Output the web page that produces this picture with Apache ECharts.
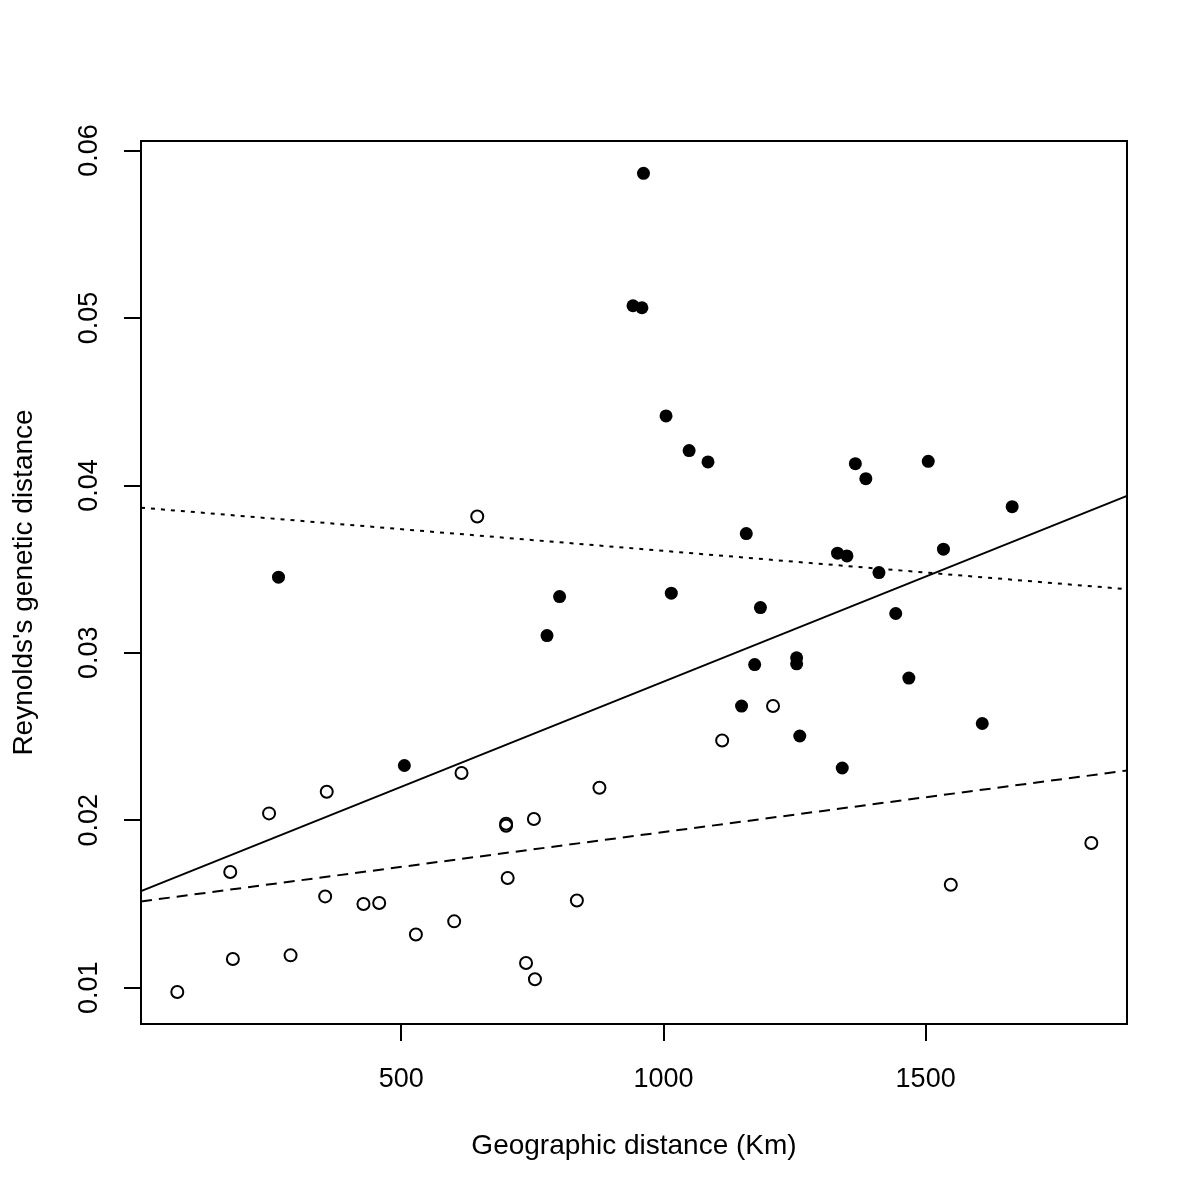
<!DOCTYPE html>
<html>
<head>
<meta charset="utf-8">
<script src="https://cdn.jsdelivr.net/npm/echarts@6/dist/echarts.min.js"></script>
<style>
html,body{margin:0;padding:0;background:#fff;}
#chart{width:1200px;height:1200px;}
</style>
</head>
<body>
<div id="chart"></div>
<script>
// Filled points: [geographic distance (km), Reynolds's genetic distance]
const filledX = [962, 942, 959, 1005, 1049, 1085, 1366, 1386, 1505, 1158, 1665, 1332, 1350, 1534, 1411, 266, 1015, 802, 1185, 1443, 778, 1174, 1254, 1254, 1468, 1149, 1260, 1341, 1608, 506];
const filledY = [0.05864, 0.05073, 0.05061, 0.04415, 0.04208, 0.04140, 0.04130, 0.04040, 0.04144, 0.03712, 0.03873, 0.03595, 0.03579, 0.03619, 0.03479, 0.03452, 0.03356, 0.03336, 0.03270, 0.03235, 0.03103, 0.02930, 0.02970, 0.02934, 0.02849, 0.02682, 0.02503, 0.02312, 0.02578, 0.02327];
// Open points
const openX = [645, 615, 358, 248, 878, 700, 700, 753, 174, 703, 355, 428, 458, 835, 601, 528, 179, 289, 738, 755, 73, 1209, 1112, 1816, 1548];
const openY = [0.03814, 0.02282, 0.02170, 0.02041, 0.02194, 0.01979, 0.01967, 0.02007, 0.01691, 0.01655, 0.01545, 0.01500, 0.01506, 0.01521, 0.01396, 0.01318, 0.01171, 0.01193, 0.01147, 0.01050, 0.00974, 0.02682, 0.02476, 0.01864, 0.01615];
// Fitted lines (value at left and right edge of the plotting region)
const lineX = [3.8, 1884];
const solidY = [0.01577, 0.03937];
const dottedY = [0.03867, 0.03380];
const dashedY = [0.01515, 0.02297];
// Tick labels
const xTicks = [500, 1000, 1500];
const yTicks = [0.01, 0.02, 0.03, 0.04, 0.05, 0.06];

const xRange = [3.8, 1884];
const yRange = [0.00783, 0.06057];

const zip = (xs, ys) => xs.map((x, i) => [x, ys[i]]);
const font = "'Liberation Sans', Arial, Helvetica, sans-serif";

const chart = echarts.init(document.getElementById('chart'), null, {renderer: 'canvas'});
chart.setOption({
  animation: false,
  backgroundColor: '#fff',
  grid: {left: 141, right: 73, top: 141, bottom: 176, show: true, borderColor: '#000', borderWidth: 2, containLabel: false},
  xAxis: {
    type: 'value', min: xRange[0], max: xRange[1],
    name: 'Geographic distance (Km)', nameLocation: 'middle', nameGap: 108,
    nameTextStyle: {color: '#000', fontSize: 28, fontFamily: font},
    axisLine: {show: true, onZero: false, lineStyle: {color: '#000', width: 2}},
    axisTick: {show: true, inside: false, length: 17, lineStyle: {color: '#000', width: 2}, customValues: xTicks},
    axisLabel: {show: true, color: '#000', fontSize: 27, fontFamily: font, margin: 42, customValues: xTicks, formatter: v => String(v)},
    splitLine: {show: false}
  },
  yAxis: {
    type: 'value', min: yRange[0], max: yRange[1],
    name: "Reynolds's genetic distance", nameLocation: 'middle', nameGap: 103,
    nameTextStyle: {color: '#000', fontSize: 28, fontFamily: font},
    axisLine: {show: true, onZero: false, lineStyle: {color: '#000', width: 2}},
    axisTick: {show: true, inside: false, length: 17, lineStyle: {color: '#000', width: 2}, customValues: yTicks},
    axisLabel: {show: true, color: '#000', fontSize: 27, fontFamily: font, margin: 38, rotate: 90, customValues: yTicks, formatter: v => v.toFixed(2)},
    splitLine: {show: false}
  },
  series: [
    {type: 'scatter', data: zip(filledX, filledY), symbol: 'circle', symbolSize: 13,
     itemStyle: {color: '#000', borderWidth: 0, opacity: 1}, z: 3},
    {type: 'scatter', data: zip(openX, openY), symbol: 'circle', symbolSize: 12,
     itemStyle: {color: 'rgba(0,0,0,0)', borderColor: '#000', borderWidth: 2, opacity: 1}, z: 3},
    {type: 'line', data: zip(lineX, solidY), symbol: 'none', lineStyle: {color: '#000', width: 2, type: 'solid'}, z: 2},
    {type: 'line', data: zip(lineX, dottedY), symbol: 'none', lineStyle: {color: '#000', width: 2, type: [4, 6]}, z: 2},
    {type: 'line', data: zip(lineX, dashedY), symbol: 'none', lineStyle: {color: '#000', width: 2, type: [11, 7]}, z: 2}
  ]
});
</script>
</body>
</html>
